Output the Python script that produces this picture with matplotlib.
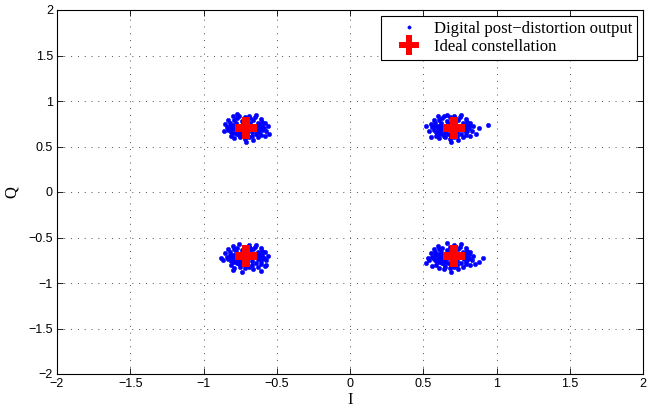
import matplotlib
matplotlib.use("Agg")
import matplotlib.pyplot as plt

# received symbols after digital post-distortion
tl_pts = [(-0.78, 0.76), (-0.80, 0.70), (-0.79, 0.65), (-0.76, 0.63), (-0.74, 0.78), (-0.66, 0.79),
          (-0.63, 0.76), (-0.62, 0.68), (-0.64, 0.64), (-0.67, 0.62), (-0.82, 0.73), (-0.83, 0.68),
          (-0.77, 0.81), (-0.72, 0.82), (-0.65, 0.82), (-0.60, 0.73), (-0.59, 0.70), (-0.61, 0.63),
          (-0.69, 0.60), (-0.75, 0.60), (-0.81, 0.62), (-0.84, 0.71), (-0.79, 0.79), (-0.73, 0.75),
          (-0.68, 0.76), (-0.75, 0.66), (-0.67, 0.66), (-0.76, 0.73), (-0.64, 0.71), (-0.70, 0.79),
          (-0.71, 0.62), (-0.78, 0.68), (-0.62, 0.74), (-0.58, 0.76), (-0.57, 0.67), (-0.86, 0.67),
          (-0.85, 0.75), (-0.80, 0.83), (-0.69, 0.84), (-0.61, 0.80), (-0.63, 0.60), (-0.72, 0.58),
          (-0.79, 0.59), (-0.66, 0.57), (-0.56, 0.72), (-0.55, 0.64), (-0.83, 0.79), (-0.77, 0.86),
          (-0.64, 0.85), (-0.71, 0.55), (-0.74, 0.70), (-0.81, 0.66), (-0.60, 0.77), (-0.66, 0.73),
          (-0.77, 0.64), (-0.73, 0.64), (-0.82, 0.76), (-0.58, 0.62), (-0.68, 0.81), (-0.76, 0.84),
          (-0.80, 0.74), (-0.81, 0.69), (-0.79, 0.72), (-0.61, 0.71), (-0.62, 0.66), (-0.60, 0.68),
          (-0.77, 0.70), (-0.63, 0.72), (-0.78, 0.73), (-0.64, 0.68)]
tr_pts = [(0.62, 0.76), (0.60, 0.70), (0.61, 0.64), (0.64, 0.62), (0.66, 0.78), (0.74, 0.79),
          (0.77, 0.76), (0.78, 0.68), (0.76, 0.64), (0.73, 0.62), (0.58, 0.73), (0.57, 0.68),
          (0.63, 0.81), (0.68, 0.82), (0.75, 0.82), (0.80, 0.73), (0.81, 0.70), (0.79, 0.63),
          (0.71, 0.60), (0.65, 0.60), (0.59, 0.62), (0.56, 0.71), (0.61, 0.79), (0.67, 0.75),
          (0.72, 0.76), (0.65, 0.66), (0.73, 0.66), (0.64, 0.73), (0.76, 0.71), (0.70, 0.79),
          (0.69, 0.62), (0.62, 0.68), (0.78, 0.74), (0.82, 0.76), (0.83, 0.67), (0.54, 0.67),
          (0.55, 0.75), (0.60, 0.83), (0.71, 0.84), (0.79, 0.80), (0.77, 0.60), (0.68, 0.58),
          (0.61, 0.59), (0.74, 0.57), (0.84, 0.72), (0.86, 0.64), (0.57, 0.79), (0.66, 0.85),
          (0.76, 0.85), (0.69, 0.55), (0.67, 0.70), (0.59, 0.66), (0.80, 0.77), (0.74, 0.73),
          (0.63, 0.64), (0.67, 0.64), (0.58, 0.76), (0.82, 0.62), (0.72, 0.81), (0.64, 0.84),
          (0.94, 0.74), (0.52, 0.72), (0.55, 0.60), (0.88, 0.70),
          (0.62, 0.72), (0.61, 0.67), (0.63, 0.70), (0.79, 0.71), (0.80, 0.67), (0.78, 0.72),
          (0.62, 0.74), (0.81, 0.74), (0.60, 0.72), (0.79, 0.66)]
bl_pts = [(-0.78, -0.66), (-0.80, -0.72), (-0.79, -0.77), (-0.76, -0.79), (-0.74, -0.64), (-0.66, -0.63),
          (-0.63, -0.66), (-0.62, -0.74), (-0.64, -0.78), (-0.67, -0.80), (-0.82, -0.69), (-0.83, -0.74),
          (-0.77, -0.61), (-0.72, -0.60), (-0.65, -0.60), (-0.60, -0.69), (-0.59, -0.72), (-0.61, -0.79),
          (-0.69, -0.82), (-0.75, -0.82), (-0.81, -0.80), (-0.84, -0.71), (-0.79, -0.63), (-0.73, -0.67),
          (-0.68, -0.66), (-0.75, -0.76), (-0.67, -0.76), (-0.76, -0.69), (-0.64, -0.71), (-0.70, -0.63),
          (-0.71, -0.80), (-0.78, -0.74), (-0.62, -0.68), (-0.58, -0.66), (-0.57, -0.75), (-0.87, -0.75),
          (-0.85, -0.67), (-0.80, -0.59), (-0.69, -0.58), (-0.61, -0.62), (-0.63, -0.82), (-0.72, -0.84),
          (-0.79, -0.83), (-0.66, -0.85), (-0.56, -0.70), (-0.57, -0.80), (-0.83, -0.63), (-0.76, -0.57),
          (-0.64, -0.58), (-0.74, -0.88), (-0.74, -0.72), (-0.81, -0.76), (-0.60, -0.65), (-0.66, -0.69),
          (-0.77, -0.78), (-0.73, -0.78), (-0.82, -0.66), (-0.58, -0.81), (-0.68, -0.61), (-0.61, -0.87),
          (-0.88, -0.72), (-0.80, -0.86),
          (-0.80, -0.69), (-0.79, -0.74), (-0.81, -0.72), (-0.62, -0.71), (-0.61, -0.76), (-0.63, -0.74),
          (-0.78, -0.71), (-0.60, -0.73), (-0.77, -0.75), (-0.63, -0.69)]
br_pts = [(0.62, -0.66), (0.60, -0.72), (0.61, -0.77), (0.64, -0.79), (0.66, -0.64), (0.74, -0.63),
          (0.77, -0.66), (0.78, -0.74), (0.76, -0.78), (0.73, -0.80), (0.58, -0.69), (0.57, -0.74),
          (0.63, -0.61), (0.68, -0.60), (0.75, -0.60), (0.80, -0.69), (0.81, -0.72), (0.79, -0.79),
          (0.71, -0.82), (0.65, -0.82), (0.59, -0.80), (0.56, -0.71), (0.61, -0.63), (0.67, -0.67),
          (0.72, -0.66), (0.65, -0.76), (0.73, -0.76), (0.64, -0.69), (0.76, -0.71), (0.70, -0.63),
          (0.69, -0.80), (0.62, -0.74), (0.78, -0.68), (0.82, -0.66), (0.83, -0.75), (0.54, -0.75),
          (0.55, -0.67), (0.60, -0.59), (0.71, -0.58), (0.79, -0.62), (0.77, -0.82), (0.68, -0.84),
          (0.61, -0.83), (0.74, -0.85), (0.84, -0.70), (0.85, -0.79), (0.57, -0.63), (0.66, -0.56),
          (0.76, -0.57), (0.69, -0.88), (0.67, -0.72), (0.59, -0.76), (0.80, -0.65), (0.74, -0.69),
          (0.63, -0.78), (0.67, -0.78), (0.58, -0.66), (0.82, -0.80), (0.72, -0.61), (0.64, -0.85),
          (0.91, -0.72), (0.53, -0.73), (0.56, -0.81), (0.88, -0.77), (0.52, -0.78),
          (0.62, -0.70), (0.61, -0.74), (0.63, -0.72), (0.79, -0.70), (0.80, -0.75), (0.78, -0.72),
          (0.60, -0.68), (0.81, -0.68), (0.62, -0.77), (0.79, -0.77)]

# ideal QPSK constellation
ideal_i = [0.7071, -0.7071, -0.7071, 0.7071]
ideal_q = [0.7071, 0.7071, -0.7071, -0.7071]

ticks = [-2, -1.5, -1, -0.5, 0, 0.5, 1, 1.5, 2]
tick_labels = ["\u22122", "\u22121.5", "\u22121", "\u22120.5", "0", "0.5", "1", "1.5", "2"]

SANS = ["Liberation Sans", "DejaVu Sans"]
SERIF = ["Liberation Serif", "DejaVu Serif"]

fig = plt.figure(figsize=(6.49, 4.12), dpi=100)
ax = fig.add_axes([57/649, 1-374/412, 586/649, 364/412])

pts = tl_pts + tr_pts + bl_pts + br_pts
rx = [p[0] for p in pts]; ry = [p[1] for p in pts]
ax.plot(rx, ry, ls="none", marker="o", ms=3.2, mfc="#0000ff", mec="#0000ff", mew=0.3,
        label="Digital post\u2212distortion output", zorder=3)
ax.plot(ideal_i, ideal_q, ls="none", marker="P", ms=16, mfc="#ff0000", mec="#ff0000", mew=0,
        label="Ideal constellation", zorder=4)

ax.set_xlim(-2, 2); ax.set_ylim(-2, 2)
ax.set_xticks(ticks); ax.set_yticks(ticks)
ax.set_xticklabels(tick_labels, family=SANS, fontsize=9)
ax.set_yticklabels(tick_labels, family=SANS, fontsize=9)
ax.tick_params(direction="in", length=4, width=0.6, top=True, right=True, pad=3)
ax.grid(True, color="0.3", lw=0.7, ls=(0, (1, 6)))
for s in ax.spines.values():
    s.set_linewidth(0.8)

ax.set_xlabel("I", family=SERIF, fontsize=12, labelpad=1)
ax.set_ylabel("Q", family=SERIF, fontsize=12, labelpad=6)

leg = ax.legend(loc="upper right", prop={"family": SERIF, "size": 12}, fancybox=False,
                framealpha=1, edgecolor="black", borderaxespad=0.35, borderpad=0.3,
                labelspacing=0.12, handletextpad=0.15, handlelength=2.7, markerscale=1.0)
leg.get_frame().set_linewidth(0.8)
# smaller dot / plus in legend like the reference
leg.legend_handles[0].set_markersize(2.4)
leg.legend_handles[1].set_markersize(15)

fig.savefig("out.png", dpi=100)
